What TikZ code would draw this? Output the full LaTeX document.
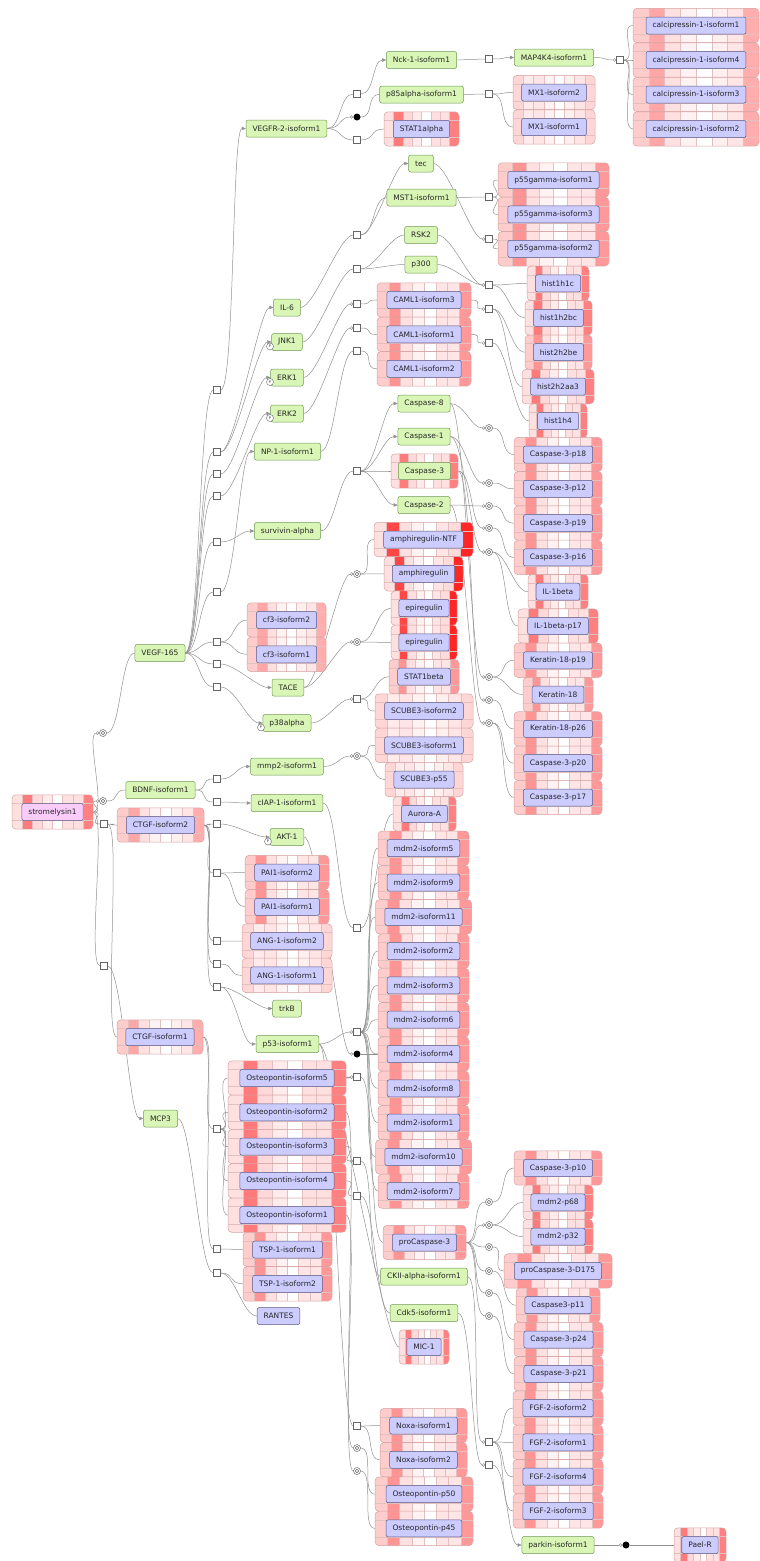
\documentclass[tikz,border=0pt]{standalone}
\usepackage{fontspec}
\setmainfont{DejaVu Sans}
\usetikzlibrary{arrows.meta,shapes,positioning,calc}

\definecolor{gfill}{RGB}{217,246,182}
\definecolor{gline}{RGB}{112,150,84}
\definecolor{bfill}{RGB}{204,204,255}
\definecolor{bline}{RGB}{88,88,136}
\definecolor{pfill}{RGB}{250,204,250}
\definecolor{wire}{RGB}{145,145,145}
\definecolor{hmline}{RGB}{214,160,160}
\definecolor{cellline}{RGB}{226,192,192}

\pgfdeclarelayer{back}
\pgfsetlayers{back,main}

\tikzset{
  every node/.style={font=\fontsize{7.5}{8.5}\selectfont, text=black!85},
  gnode/.style={rectangle, rounded corners=2pt, draw=gline, fill=gfill, minimum height=17pt, inner xsep=6.5pt, inner ysep=0pt, line width=.5pt},
  bnode/.style={rectangle, rounded corners=2pt, draw=bline, fill=bfill, minimum height=17pt, inner xsep=6.5pt, inner ysep=0pt, line width=.5pt},
  snode/.style={bnode, fill=pfill},
  hmnode/.style={rectangle, minimum height=34.4pt, inner sep=0pt},
  proc/.style={rectangle, draw=black!60, fill=white, minimum size=7pt, inner sep=0pt, line width=.5pt},
  dis/.style={circle, draw=black!60, fill=white, minimum size=7pt, inner sep=0pt, line width=.5pt,
    path picture={\draw[black!60] (path picture bounding box.center) circle (1.7pt);}},
  asc/.style={circle, fill=black, minimum size=7pt, inner sep=0pt},
  pmark/.style={circle, draw=black!60, fill=white, minimum size=7pt, inner sep=0pt, font=\fontsize{3.5}{4}\selectfont},
  link/.style={draw=wire, line width=.5pt},
  catal/.style={link, -{Circle[fill=white, length=3.4pt, width=3.4pt]}},
  sway/.style={out=0, in=180, distance=14pt},
}

\def\hmA{20,42,12,5,0,10,10,40}
\def\hmB{12,52,15,8,0,12,12,50}
\def\hmC{12,72,12,5,0,10,14,85}
\def\hmD{16,8,10,5,0,6,10,16}
\def\hmE{20,35,12,5,0,6,10,32}

% heat map box: [label style]{name}{x,y}{width}{shades}{text}
\newcommand{\hmbox}[6][bnode]{%
  \edef\hmlist{#5}%
  \begin{scope}[shift={(#3)}]
    \begin{scope}
      \clip[rounded corners=4pt] (-#4/2,-17.2) rectangle (#4/2,17.2);
      \foreach \v [count=\i] in \hmlist
        \fill[red!\v!white] ({-#4/2+(\i-1)*#4/8},-17.2) rectangle ++({#4/8},34.4);
      \foreach \i in {1,...,7}
        \draw[cellline, line width=.4pt] ({-#4/2+\i*#4/8},-17.2) -- ++(0,34.4);
      \draw[cellline, line width=.4pt] (-#4/2,-8.6) -- (#4/2,-8.6) (-#4/2,8.6) -- (#4/2,8.6);
    \end{scope}
    \draw[hmline, line width=.5pt, rounded corners=4pt] (-#4/2,-17.2) rectangle (#4/2,17.2);
  \end{scope}
  \node[hmnode, minimum width=#4] (#2) at (#3) {};
  \node[#1] (#2-t) at (#3) {#6};
}

\begin{document}
\begin{tikzpicture}[x=1pt, y=-1pt, >={Triangle[length=4pt, width=3.4pt]}]
\useasboundingbox (0,0) rectangle (760,1561);

\hmbox{calc1}{696,25.5}{126}{\hmE}{calcipressin-1-isoform1}
\hmbox{calc4}{696,60}{126}{\hmE}{calcipressin-1-isoform4}
\hmbox{calc3}{696,94.5}{126}{\hmE}{calcipressin-1-isoform3}
\hmbox{calc2}{696,129}{126}{\hmE}{calcipressin-1-isoform2}
\hmbox{mx2}{554,92.5}{82}{\hmD}{MX1-isoform2}
\hmbox{mx1}{554,127}{82}{\hmD}{MX1-isoform1}
\hmbox{stat1a}{421.5,129}{75}{\hmB}{STAT1alpha}
\hmbox{p55a}{553.5,180}{111}{\hmA}{p55gamma-isoform1}
\hmbox{p55c}{553.5,214.4}{111}{\hmA}{p55gamma-isoform3}
\hmbox{p55b}{553.5,248.8}{111}{\hmA}{p55gamma-isoform2}
\hmbox{h1c}{558,283.4}{62}{\hmB}{hist1h1c}
\hmbox{h2bc}{558.5,317.8}{67}{\hmB}{hist1h2bc}
\hmbox{h2be}{558.5,352.2}{67}{\hmA}{hist2h2be}
\hmbox{h2aa}{558,386.6}{72}{\hmB}{hist2h2aa3}
\hmbox{h1h4}{558,421}{58}{\hmB}{hist1h4}
\hmbox{caml3}{424,300}{94}{\hmA}{CAML1-isoform3}
\hmbox{caml1}{424,334.4}{94}{\hmA}{CAML1-isoform1}
\hmbox{caml2}{424,368.8}{94}{\hmA}{CAML1-isoform2}
\hmbox[gnode]{casp3}{424.5,471}{67}{\hmB}{Caspase-3}
\hmbox{c3p18}{558,454.5}{88}{\hmA}{Caspase-3-p18}
\hmbox{c3p12}{558,488.8}{88}{\hmA}{Caspase-3-p12}
\hmbox{c3p19}{558,523.1}{88}{\hmA}{Caspase-3-p19}
\hmbox{c3p16}{558,557.4}{88}{\hmA}{Caspase-3-p16}
\hmbox{il1b}{558,591.7}{60}{\hmB}{IL-1beta}
\hmbox{il1bp}{558,626}{80}{\hmB}{IL-1beta-p17}
\hmbox{k18p19}{558,660.3}{88}{\hmA}{Keratin-18-p19}
\hmbox{k18}{558,694.6}{70}{\hmA}{Keratin-18}
\hmbox{k18p26}{558,728.9}{88}{\hmA}{Keratin-18-p26}
\hmbox{c3p20}{558,763.2}{88}{\hmA}{Caspase-3-p20}
\hmbox{c3p17}{558,797.5}{88}{\hmA}{Caspase-3-p17}
\hmbox{amphntf}{423.5,539.5}{99}{\hmC}{amphiregulin-NTF}
\hmbox{amph}{423.5,573.8}{79}{\hmC}{amphiregulin}
\hmbox{epi1}{424,608.1}{66}{\hmC}{epiregulin}
\hmbox{epi2}{424,642.4}{66}{\hmC}{epiregulin}
\hmbox{stat1b}{424,676.7}{70}{\hmA}{STAT1beta}
\hmbox{scub2}{424,711}{98}{\hmD}{SCUBE3-isoform2}
\hmbox{scub1}{424,745.3}{98}{\hmD}{SCUBE3-isoform1}
\hmbox{scub55}{424,779.6}{78}{\hmD}{SCUBE3-p55}
\hmbox{aura}{424.5,813.9}{63}{\hmB}{Aurora-A}
\foreach \mn/\my/\mw/\mt in {m5/848.2/91/mdm2-isoform5, m9/882.5/91/mdm2-isoform9,
    m11/916.8/96/mdm2-isoform11, m2/951.1/91/mdm2-isoform2, m3/985.4/91/mdm2-isoform3,
    m6/1019.7/91/mdm2-isoform6, m4/1054/91/mdm2-isoform4, m8/1088.3/91/mdm2-isoform8,
    m1/1122.6/91/mdm2-isoform1, m10/1156.9/96/mdm2-isoform10, m7/1191.2/91/mdm2-isoform7}
  {\hmbox{\mn}{423.5,\my}{\mw}{\hmA}{\mt}}
\hmbox{cf3b}{286.5,620}{79}{\hmE}{cf3-isoform2}
\hmbox{cf3a}{286.5,654.3}{79}{\hmE}{cf3-isoform1}
\hmbox{pai2}{287,872.5}{84}{\hmA}{PAI1-isoform2}
\hmbox{pai1}{287,906.8}{84}{\hmA}{PAI1-isoform1}
\hmbox{ang2}{287,941.1}{90}{\hmD}{ANG-1-isoform2}
\hmbox{ang1}{287,975.4}{90}{\hmD}{ANG-1-isoform1}
\hmbox{ctgf2}{160.5,825}{87}{\hmE}{CTGF-isoform2}
\hmbox{ctgf1}{160,1037}{86}{\hmE}{CTGF-isoform1}
\hmbox[snode]{strom}{52.5,812}{81}{\hmB}{stromelysin1}
\foreach \mn/\my/\mt in {opn5/1078/Osteopontin-isoform5, opn2/1112.3/Osteopontin-isoform2,
    opn3/1146.6/Osteopontin-isoform3, opn4/1180.9/Osteopontin-isoform4, opn1/1215.2/Osteopontin-isoform1}
  {\hmbox{\mn}{287,\my}{118}{\hmB}{\mt}}
\hmbox{tsp1}{287.5,1249.5}{89}{\hmA}{TSP-1-isoform1}
\hmbox{tsp2}{287.5,1283.8}{89}{\hmA}{TSP-1-isoform2}
\node[bnode] (rantes) at (278.5,1316) {RANTES};
\hmbox{procasp3}{424.5,1242.5}{83}{\hmA}{proCaspase-3}
\hmbox{c3p10}{558,1168}{88}{\hmA}{Caspase-3-p10}
\hmbox{mp68}{558,1202.3}{70}{\hmB}{mdm2-p68}
\hmbox{mp32}{558,1236.6}{70}{\hmB}{mdm2-p32}
\hmbox{d175}{558,1270.9}{108}{\hmA}{proCaspase-3-D175}
\hmbox{c3p11}{558,1305.2}{84}{\hmA}{Caspase3-p11}
\hmbox{c3p24}{558.5,1339.5}{89}{\hmA}{Caspase-3-p24}
\hmbox{c3p21}{558.5,1373.8}{89}{\hmA}{Caspase-3-p21}
\hmbox{fgf2}{558,1408.1}{90}{\hmA}{FGF-2-isoform2}
\hmbox{fgf1}{558,1442.4}{90}{\hmA}{FGF-2-isoform1}
\hmbox{fgf4}{558,1476.7}{90}{\hmA}{FGF-2-isoform4}
\hmbox{fgf3}{558,1511}{90}{\hmA}{FGF-2-isoform3}
\hmbox{mic1}{424,1347}{50}{\hmB}{MIC-1}
\hmbox{noxa1}{423.5,1425.5}{87}{\hmA}{Noxa-isoform1}
\hmbox{noxa2}{423.5,1459.8}{87}{\hmA}{Noxa-isoform2}
\hmbox{opn50}{424,1494.1}{98}{\hmA}{Osteopontin-p50}
\hmbox{opn45}{424,1528.4}{98}{\hmA}{Osteopontin-p45}
\hmbox{paelr}{700,1545}{52}{\hmB}{Pael-R}

\node[gnode] (vegfr2) at (286.5,128.5) {VEGFR-2-isoform1};
\node[gnode] (nck1) at (421.5,60) {Nck-1-isoform1};
\node[gnode] (map4k4) at (554,57.5) {MAP4K4-isoform1};
\node[gnode] (p85a) at (421.5,94.5) {p85alpha-isoform1};
\node[gnode] (tec) at (421,163.5) {tec};
\node[gnode] (mst1) at (421.5,197.5) {MST1-isoform1};
\node[gnode] (rsk2) at (421,235) {RSK2};
\node[gnode] (p300) at (421,264.5) {p300};
\node[gnode] (il6) at (287,307.5) {IL-6};
\node[gnode] (jnk1) at (287,342) {JNK1};
\node[gnode] (erk1) at (287,377.5) {ERK1};
\node[gnode] (erk2) at (287,413.5) {ERK2};
\node[gnode] (np1) at (287.5,451.5) {NP-1-isoform1};
\node[gnode] (casp8) at (424,403.5) {Caspase-8};
\node[gnode] (casp1) at (424,436.5) {Caspase-1};
\node[gnode] (casp2) at (424,505) {Caspase-2};
\node[gnode] (surv) at (287.5,531) {survivin-alpha};
\node[gnode] (tace) at (288,687.5) {TACE};
\node[gnode] (p38a) at (287,723) {p38alpha};
\node[gnode] (vegf) at (160,653) {VEGF-165};
\node[gnode] (bdnf) at (160.5,790) {BDNF-isoform1};
\node[gnode] (mmp2) at (287,766.5) {mmp2-isoform1};
\node[gnode] (ciap1) at (287,803) {cIAP-1-isoform1};
\node[gnode] (akt1) at (287,837) {AKT-1};
\node[gnode] (trkb) at (287,1008.5) {trkB};
\node[gnode] (p53) at (287.5,1044) {p53-isoform1};
\node[gnode] (mcp3) at (160.5,1118.5) {MCP3};
\node[gnode] (ck2a) at (424,1276.5) {CKII-alpha-isoform1};
\node[gnode] (cdk5) at (424,1313) {Cdk5-isoform1};
\node[gnode] (parkin) at (558,1545) {parkin-isoform1};

\node[pmark] (pjnk1) at (270,346.5) {P};
\node[pmark] (perk1) at (270,382) {P};
\node[pmark] (perk2) at (270,418) {P};
\node[pmark] (pp38) at (261,727.5) {P};
\node[pmark] (pakt) at (268,841.5) {P};

\node[dis] (dvegf) at (103,733) {};
\node[dis] (dbdnf) at (103,801) {};
\node[proc] (sctgf) at (104,824) {};
\node[proc] (smcp3) at (104,966) {};
\foreach \mn/\my in {b1/390,b2/452,b3/474,b4/496,b5/542,b6/592,b7/642,b8/664,b9/687,b10/779,
    b11/802,b12/824,b13/873,b14/941,b15/964,b16/987,b17/1129,b18/1249,b19/1273}
  \node[proc] (\mn) at (217,\my) {};
\foreach \mn/\my in {c1/94,c3/140,c4/235,c5/269,c6/304,c7/328,c8/351,c9/471,c12/699,c14/928,
    c15/1032,c17/1077,c18/1161,c19/1196,c21/1426}
  \node[proc] (\mn) at (357,\my) {};
\foreach \mn/\my in {c10/574,c11/642,c13/756,c22/1448,c23/1471}
  \node[dis] (\mn) at (357,\my) {};
\node[asc] (c2) at (357,117) {};
\node[asc] (c16) at (357,1054) {};
\foreach \mn/\my in {d1/59,d2/94,d3/197,d4/239,d5/285,d6/309,d7/343,d22/1442,d23/1465}
  \node[proc] (\mn) at (489,\my) {};
\foreach \mn/\my in {d8/428,d9/483,d10/506,d11/528,d12/552,d13/677,d14/700,d15/723,
    d16/1202,d17/1225,d18/1247,d19/1271,d20/1293,d21/1316}
  \node[dis] (\mn) at (489,\my) {};
\node[proc] (e1) at (620,60) {};
\node[asc] (e2) at (626,1545) {};

\begin{pgfonlayer}{back}
\foreach \gl in {dvegf,dbdnf} \draw[catal] (strom.east) to[sway] (\gl.west);
\foreach \gl in {sctgf,smcp3} \draw[link] (strom.east) to[sway] (\gl.west);
\draw[link] (dvegf.east) to[sway] (vegf.west);
\draw[link] (dbdnf.east) to[sway] (bdnf.west);
\foreach \tg in {ctgf2,ctgf1} \draw[link] (sctgf.east) to[sway] (\tg.west);
\draw[link,->] (smcp3.east) to[sway] (mcp3.west);

\foreach \gl in {b1,b2,b3,b4,b5,b6,b7,b8,b9} \draw[link] (vegf.east) to[sway] (\gl.west);
\foreach \gl in {b10,b11} \draw[link] (bdnf.east) to[sway] (\gl.west);
\foreach \gl in {b12,b13,b14,b15,b16} \draw[link] (ctgf2.east) to[sway] (\gl.west);
\foreach \gl in {b17,b18} \draw[link] (ctgf1.east) to[sway] (\gl.west);
\draw[link] (mcp3.east) to[sway] (b19.west);
\foreach \gl/\tg in {b1/vegfr2,b2/il6,b2/jnk1,b3/erk1,b4/erk2,b5/surv,b6/np1,b8/tace,b9/p38a,
    b10/mmp2,b11/ciap1,b12/akt1,b16/trkb,b16/p53}
  \draw[link,->] (\gl.east) to[sway] (\tg.west);
\foreach \gl/\tg in {b7/cf3b,b7/cf3a,b13/pai2,b13/pai1,b14/ang2,b15/ang1,b17/opn5,b17/opn2,
    b17/opn3,b17/opn4,b17/opn1,b18/tsp1,b19/tsp2,b19/rantes}
  \draw[link] (\gl.east) to[sway] (\tg.west);

\foreach \gl/\tg in {vegfr2/c1,vegfr2/c3,il6/c4,jnk1/c5,np1/c8,surv/c9,ciap1/c14,opn4/c19,
    opn1/c22,opn2/c23,p53/c21}
  \draw[link] (\gl.east) to[sway] (\tg.west);
\foreach \gl/\tg in {vegfr2/c2,erk1/c6,erk2/c7,tace/c10,tace/c11,p38a/c12,mmp2/c13,p53/c15,
    akt1/c16,opn5/c17,opn3/c18}
  \draw[catal] (\gl.east) to[sway] (\tg.west);
\foreach \gl/\tg in {c1/nck1,c4/tec,c9/casp8,c9/casp1,c9/casp2}
  \draw[link,->] (\gl.east) to[sway] (\tg.west);
\foreach \gl/\tg in {c2/p85a,c3/stat1a,c4/mst1,c5/rsk2,c5/p300,c6/caml3,c7/caml1,c8/caml2,
    c9/casp3,c10/amphntf,c10/amph,c11/epi1,c11/epi2,c12/stat1b,c12/scub2,c13/scub1,
    c13/scub55,c14/aura,c16/m4,c17/procasp3,c18/ck2a,c19/cdk5,c21/noxa1,c21/noxa2,
    c22/opn50,c23/opn45}
  \draw[link] (\gl.east) to[sway] (\tg.west);
\foreach \tg in {m5,m9,m11,m2,m3,m6,m4,m8,m1,m10,m7} \draw[link] (c15.east) to[sway] (\tg.west);
\draw[link] (p53.east) to[sway] (mic1.west);

\foreach \gl/\tg in {nck1/d1,p85a/d2,mst1/d3}
  \draw[link] (\gl.east) to[sway] (\tg.west);
\foreach \gl/\tg in {map4k4/e1,tec/d4,rsk2/d5,p300/d5,caml3/d6,caml1/d7,casp8/d8,casp8/d13,
    casp1/d9,casp1/d12,casp2/d10,casp2/d15,casp3/d11,casp3/d14,procasp3/d17,ck2a/d22,
    cdk5/d23,parkin/e2}
  \draw[catal] (\gl.east) to[sway] (\tg.west);
\foreach \gl in {d16,d18,d19,d20,d21} \draw[link] (procasp3.east) to[sway] (\gl.west);
\draw[link,->] (d1.east) to[sway] (map4k4.west);
\draw[link,->] (d23.east) to[sway] (parkin.west);
\foreach \gl/\tg in {d2/mx2,d2/mx1,e1/calc1,e1/calc4,e1/calc3,e1/calc2,d3/p55a,d3/p55c,d4/p55b,
    d5/h1c,d5/h2bc,d6/h2be,d6/h2aa,d7/h1h4,d8/c3p18,d9/c3p12,d10/c3p19,d11/c3p16,d12/il1b,
    d12/il1bp,d13/k18p19,d13/k18,d14/k18p26,d15/c3p20,d15/c3p17,d16/c3p10,d17/mp68,d17/mp32,
    d18/d175,d19/c3p11,d20/c3p24,d21/c3p21,d22/fgf2,d22/fgf1,d22/fgf4,d22/fgf3,e2/paelr}
  \draw[link] (\gl.east) to[sway] (\tg.west);
\end{pgfonlayer}
\end{tikzpicture}
\end{document}
